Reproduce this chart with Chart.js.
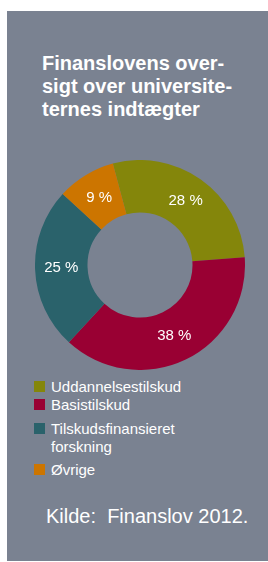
<!DOCTYPE html>
<html lang="da">
<head>
<meta charset="UTF-8">
<title>Finanslovens oversigt over universiteternes indtægter</title>
<script src="https://cdn.jsdelivr.net/npm/chart.js"></script>
<style>
  html, body { margin: 0; padding: 0; background: #fff; }
  body { width: 268px; height: 562px; position: relative; overflow: hidden; font-family: Arial, "Liberation Sans", sans-serif; }
  #panel { position: absolute; left: 7px; top: 11px; width: 261px; height: 550px; background: #7a8291; }
  #title { position: absolute; left: 42px; top: 52px; color: #fff; font-weight: bold; font-size: 20px; line-height: 23px; }
  #chartBox { position: absolute; left: 35px; top: 160px; width: 210px; height: 210px; }
  #legend { position: absolute; left: 34px; top: 378px; color: #fff; font-size: 15px; line-height: 18px; }
  .item { display: flex; align-items: flex-start; }
  .box { width: 11px; height: 11px; margin-top: 3px; margin-right: 6px; flex: none; }
  .txt { width: 140px; }
  #source { position: absolute; left: 46px; top: 505px; color: #fff; font-size: 20px; white-space: pre; }
</style>
</head>
<body>
<div id="panel"></div>
<div id="title">Finanslovens over-<br>sigt over universite-<br>ternes indtægter</div>
<div id="chartBox"><canvas id="donut" width="210" height="210"></canvas></div>
<div id="legend"></div>
<div id="source">Kilde:  Finanslov 2012.</div>

<script>
// data
const categories = ['Uddannelsestilskud', 'Basistilskud', 'Tilskudsfinansieret forskning', 'Øvrige'];
const shares = [28, 38, 25, 9];
const sliceColors = ['#84860b', '#990033', '#2a626b', '#cc7500'];

// percent labels in the middle of each ring segment
const sliceLabels = {
    id: 'sliceLabels',
    afterDatasetsDraw(chart) {
        const ctx = chart.ctx;
        const meta = chart.getDatasetMeta(0);
        ctx.save();
        ctx.fillStyle = '#fff';
        ctx.font = '15px Arial, "Liberation Sans", sans-serif';
        ctx.textAlign = 'center';
        ctx.textBaseline = 'middle';
        meta.data.forEach((arc, i) => {
            const p = arc.getCenterPoint();
            ctx.fillText(shares[i] + ' %', p.x, p.y);
        });
        ctx.restore();
    }
};

new Chart(document.getElementById('donut'), {
    type: 'doughnut',
    data: {
        labels: categories,
        datasets: [{
            data: shares,
            backgroundColor: sliceColors,
            borderWidth: 0
        }]
    },
    options: {
        responsive: false,
        animation: false,
        rotation: -15,
        cutout: '50%',
        layout: { padding: 0 },
        plugins: {
            legend: { display: false },
            tooltip: { enabled: false }
        }
    },
    plugins: [sliceLabels]
});

// legend, gaps between rows as in the original
const rowGaps = [0, 6, 5, 0];
const legend = document.getElementById('legend');
categories.forEach((name, i) => {
    const row = document.createElement('div');
    row.className = 'item';
    row.style.marginBottom = rowGaps[i] + 'px';
    row.innerHTML = '<span class="box" style="background:' + sliceColors[i] + '"></span><span class="txt"></span>';
    row.querySelector('.txt').textContent = name;
    legend.appendChild(row);
});
</script>
</body>
</html>
